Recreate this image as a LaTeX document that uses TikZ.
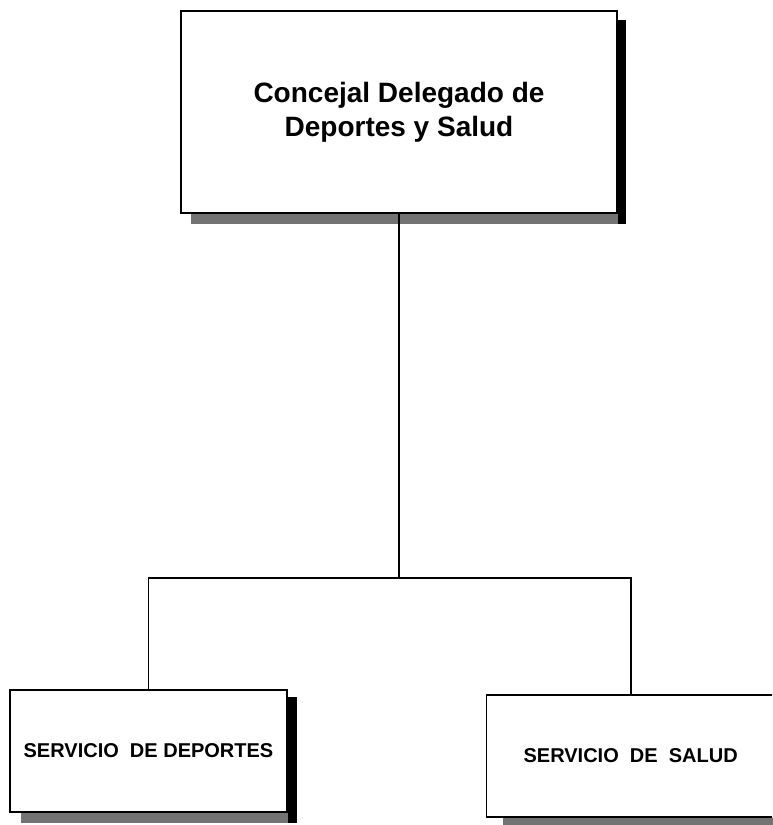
\documentclass[tikz,border=0pt]{standalone}
\usepackage{fontspec}
\setmainfont{Liberation Sans}
\usetikzlibrary{positioning, backgrounds, calc}

\begin{document}
\begin{tikzpicture}[x=1pt, y=-1pt,
  cargo/.style={rectangle, draw=black, fill=white, line width=1.3pt, align=center, inner sep=0pt},
  shadowside/.style={fill=black},
  shadowfoot/.style={fill=black!55},
  line/.style={line width=1.7pt}]

\clip (0,0) rectangle (772,825);

\node[cargo, minimum width=436pt, minimum height=202pt, font=\fontsize{28}{34}\selectfont\bfseries] (concejal) at (399,112) {Concejal Delegado de\\Deportes y Salud};
\node[cargo, minimum width=277pt, minimum height=122pt, font=\fontsize{20}{24}\selectfont\bfseries] (deportes) at (148.5,751) {SERVICIO\ \ DE DEPORTES};
\node[cargo, anchor=west, minimum width=320pt, minimum height=122pt, font=\fontsize{20}{24}\selectfont\bfseries] (salud) at (486,756) {\makebox[288pt]{SERVICIO\ \ DE\ \ SALUD}\hspace{32pt}};

% shadows
\begin{scope}[on background layer]
\fill[white] (0,0) rectangle (772,825);
\fill[shadowfoot] ([xshift=11pt]concejal.south west) rectangle ([xshift=8pt,yshift=-10pt]concejal.south east);
\fill[shadowside] ([yshift=-10pt]concejal.north east) rectangle ([xshift=8pt,yshift=-10pt]concejal.south east);
\fill[shadowfoot] ([xshift=12pt]deportes.south west) rectangle ([xshift=9pt,yshift=-10pt]deportes.south east);
\fill[shadowside] ([yshift=-8pt]deportes.north east) rectangle ([xshift=9pt,yshift=-10pt]deportes.south east);
\fill[shadowfoot] ([xshift=17pt]salud.south west) rectangle ([xshift=8pt,yshift=-8pt]salud.south east);
\end{scope}

\coordinate (rama) at (399,578);

\draw[line] (concejal) -- (rama);
\draw[line] (deportes.north) |- (rama) -| ([xshift=-16pt]salud.north);

\end{tikzpicture}
\end{document}
